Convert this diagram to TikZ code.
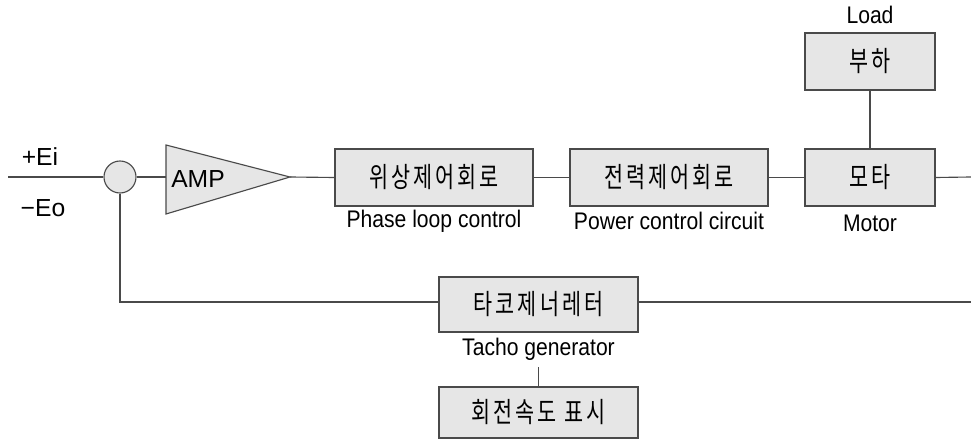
\documentclass[tikz,border=0pt]{standalone}
\usepackage{fontspec}
\setmainfont[FakeStretch=0.88]{Liberation Sans}
\newfontfamily\wide{Liberation Sans}
\newfontfamily\kr[FakeStretch=0.74,LetterSpace=11]{Noto Sans CJK KR}
\usetikzlibrary{calc}
\definecolor{boxfill}{HTML}{E6E6E6}
\definecolor{edge}{HTML}{4A4A4A}
\begin{document}
\begin{tikzpicture}[x=0.75pt,y=-0.75pt,
  blk/.style={draw=edge,fill=boxfill,line width=0.85pt,inner sep=0pt,font=\kr\fontsize{21}{23}\selectfont},
  lbl/.style={inner sep=0pt,font=\fontsize{18}{20}\selectfont},
  wlbl/.style={inner sep=0pt,font=\wide\fontsize{18.5}{20}\selectfont},
  wire/.style={draw=edge,line width=0.85pt}]
\useasboundingbox (0,0) rectangle (971,442);
% sum junction
\node[draw=edge,fill=boxfill,line width=0.85pt,circle,minimum size=32*0.75pt,inner sep=0pt] (sum) at (120,177) {};
\coordinate (in) at (8,177);
% AMP triangle
\coordinate (a1) at (166,145);
\coordinate (a2) at (166,214);
\coordinate (atip) at (290,177);
\filldraw[draw=edge,fill=boxfill,line width=0.85pt] (a1) -- (atip) -- (a2) -- cycle;
\node[wlbl,anchor=west] (amp) at (171,179) {AMP};
\coordinate (ain) at (166,177);
% blocks
\node[blk,minimum width=198*0.75pt,minimum height=57*0.75pt] (phase) at (434,177.5) {위상제어회로};
\node[blk,minimum width=198*0.75pt,minimum height=57*0.75pt] (power) at (669,177.5) {전력제어회로};
\node[blk,minimum width=130*0.75pt,minimum height=57*0.75pt] (motor) at (870,177.5) {모타};
\node[blk,minimum width=130*0.75pt,minimum height=57*0.75pt] (load) at (870,61.5) {부하};
\node[blk,minimum width=199*0.75pt,minimum height=55*0.75pt] (tacho) at (538.5,304.5) {타코제너레터};
\node[blk,minimum width=199*0.75pt,minimum height=51*0.75pt] (disp) at (538.5,412.5) {회전속도 표시};
% labels
\node[wlbl] (ei) at (40,157) {+Ei};
\node[wlbl] (eo) at (43,208) {−Eo};
\node[lbl] (phasel) at (434,221) {Phase loop control};
\node[lbl] (powerl) at (669,221) {Power control circuit};
\node[lbl] (motorl) at (870,223) {Motor};
\node[lbl] (loadl) at (870,15) {Load};
\node[lbl] (tachol) at (538.5,349) {Tacho generator};
% wires
\coordinate (outm) at (971,177);
\coordinate (outt) at (971,302);
\coordinate (fbc) at (120,302);
\coordinate (tl) at (538.5,367);
\draw[wire] (in) -- (sum.west);
\draw[wire] (sum.east) -- (ain);
\draw[wire] (atip) -- (phase.west);
\draw[wire] (phase.east) -- (power.west);
\draw[wire] (power.east) -- (motor.west);
\draw[wire] (motor.east) -- (outm);
\draw[wire] (load.south) -- (motor.north);
\draw[wire] (sum.south) -- (fbc) -- (tacho.west |- fbc);
\draw[wire] (tacho.east |- outt) -- (outt);
\draw[wire] (tl) -- (disp.north);
\end{tikzpicture}
\end{document}
